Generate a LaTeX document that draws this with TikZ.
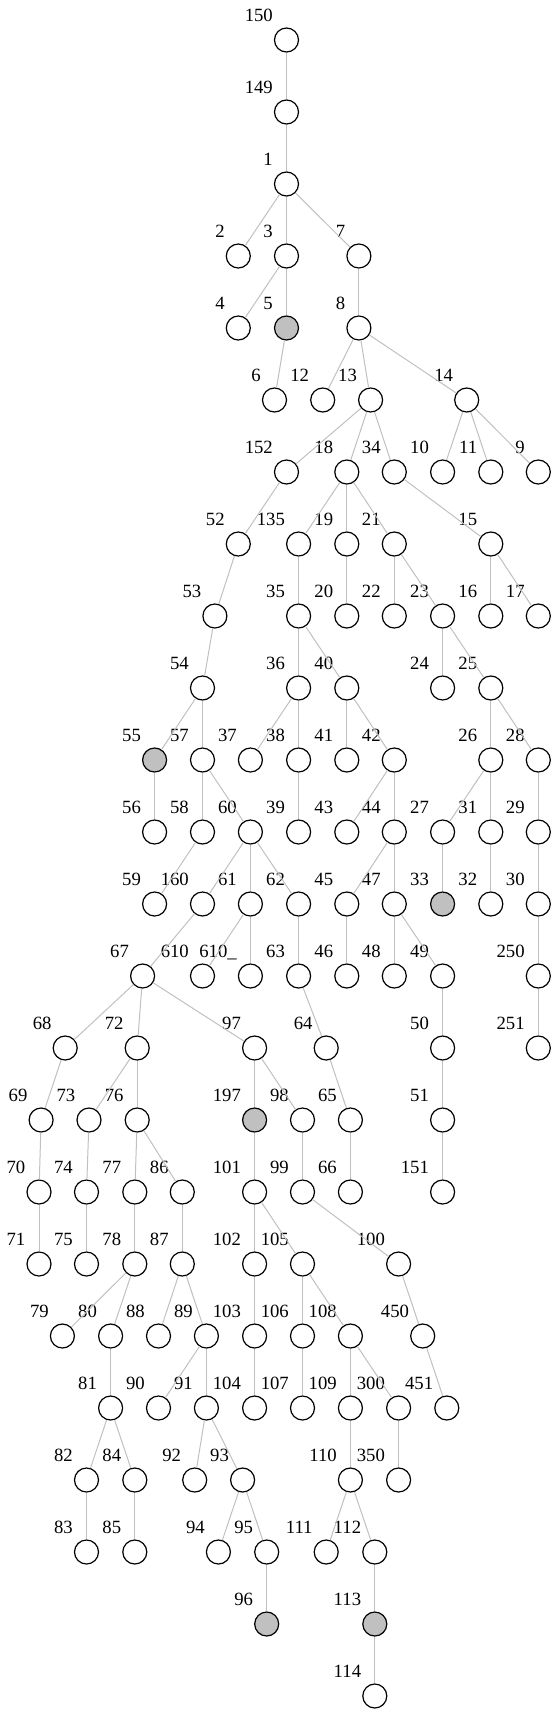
\documentclass[tikz,border=0pt]{standalone}
\usepackage{fontspec}
\setmainfont{Liberation Serif}
\definecolor{edgegray}{HTML}{C0C0C0}
\definecolor{fillgray}{HTML}{C0C0C0}
\tikzset{
  vtx/.style={circle,draw=black,line width=1.2bp,minimum size=24bp,inner sep=0pt,fill=white},
  shaded/.style={fill=fillgray},
  lbl/.style={anchor=base east,inner sep=0pt,font=\fontsize{18.7bp}{20bp}\selectfont},
  conn/.style={draw=edgegray,line width=1bp}
}
\newcommand\mkv[5][]{%
  \node[vtx,#1] (v#2) at (#3,{40+72*#4}) {};
  \node[lbl] (l#2) at ([shift={(-13.5bp,19bp)}]v#2.center) {#5};}
\newcommand\mke[2]{\draw[conn] (v#1) -- (v#2);}
\begin{document}
\begin{tikzpicture}[x=1bp,y=-1bp]
\useasboundingbox (0,0) rectangle (556,1713);
% row 0-2
\mkv{150}{286.5}{0}{150}
\mkv{149}{286.5}{1}{149}
\mkv{1}{286.5}{2}{1}
% row 3
\mkv{2}{238.3}{3}{2}
\mkv{3}{286.5}{3}{3}
\mkv{7}{358.9}{3}{7}
% row 4
\mkv{4}{238.3}{4}{4}
\mkv[shaded]{5}{286.5}{4}{5}
\mkv{8}{358.9}{4}{8}
% row 5
\mkv{6}{274.5}{5}{6}
\mkv{12}{322.7}{5}{12}
\mkv{13}{370.6}{5}{13}
\mkv{14}{466.7}{5}{14}
% row 6
\mkv{152}{286.5}{6}{152}
\mkv{18}{346.8}{6}{18}
\mkv{34}{394.3}{6}{34}
\mkv{10}{442.6}{6}{10}
\mkv{11}{490.8}{6}{11}
\mkv{9}{538.3}{6}{9}
% row 7
\mkv{52}{238.3}{7}{52}
\mkv{135}{298.6}{7}{135}
\mkv{19}{346.8}{7}{19}
\mkv{21}{394.3}{7}{21}
\mkv{15}{490.8}{7}{15}
% row 8
\mkv{53}{214.9}{8}{53}
\mkv{35}{298.6}{8}{35}
\mkv{20}{346.8}{8}{20}
\mkv{22}{394.3}{8}{22}
\mkv{23}{442.6}{8}{23}
\mkv{16}{490.8}{8}{16}
\mkv{17}{538.3}{8}{17}
% row 9
\mkv{54}{202.5}{9}{54}
\mkv{36}{298.6}{9}{36}
\mkv{40}{346.8}{9}{40}
\mkv{24}{442.6}{9}{24}
\mkv{25}{490.8}{9}{25}
% row 10
\mkv[shaded]{55}{154.6}{10}{55}
\mkv{57}{202.5}{10}{57}
\mkv{37}{250.4}{10}{37}
\mkv{38}{298.6}{10}{38}
\mkv{41}{346.8}{10}{41}
\mkv{42}{394.3}{10}{42}
\mkv{26}{490.8}{10}{26}
\mkv{28}{538.3}{10}{28}
% row 11
\mkv{56}{154.6}{11}{56}
\mkv{58}{202.5}{11}{58}
\mkv{60}{250.4}{11}{60}
\mkv{39}{298.6}{11}{39}
\mkv{43}{346.8}{11}{43}
\mkv{44}{394.3}{11}{44}
\mkv{27}{442.6}{11}{27}
\mkv{31}{490.8}{11}{31}
\mkv{29}{538.3}{11}{29}
% row 12
\mkv{59}{154.6}{12}{59}
\mkv{160}{202.5}{12}{160}
\mkv{61}{250.4}{12}{61}
\mkv{62}{298.6}{12}{62}
\mkv{45}{346.8}{12}{45}
\mkv{47}{394.3}{12}{47}
\mkv[shaded]{33}{442.6}{12}{33}
\mkv{32}{490.8}{12}{32}
\mkv{30}{538.3}{12}{30}
% row 13
\mkv{67}{142.6}{13}{67}
\mkv{610}{202.5}{13}{610}
\mkv{610u}{250.4}{13}{610\_}
\mkv{63}{298.6}{13}{63}
\mkv{46}{346.8}{13}{46}
\mkv{48}{394.3}{13}{48}
\mkv{49}{442.6}{13}{49}
\mkv{250}{538.3}{13}{250}
% row 14
\mkv{68}{65.2}{14}{68}
\mkv{72}{137.2}{14}{72}
\mkv{97}{254.6}{14}{97}
\mkv{64}{326.2}{14}{64}
\mkv{50}{442.6}{14}{50}
\mkv{251}{538.3}{14}{251}
% row 15
\mkv{69}{41.1}{15}{69}
\mkv{73}{89.0}{15}{73}
\mkv{76}{137.2}{15}{76}
\mkv[shaded]{197}{254.6}{15}{197}
\mkv{98}{302.5}{15}{98}
\mkv{65}{350.4}{15}{65}
\mkv{51}{442.6}{15}{51}
% row 16
\mkv{70}{39.0}{16}{70}
\mkv{74}{86.5}{16}{74}
\mkv{77}{134.8}{16}{77}
\mkv{86}{182.3}{16}{86}
\mkv{101}{254.6}{16}{101}
\mkv{99}{302.5}{16}{99}
\mkv{66}{350.4}{16}{66}
\mkv{151}{442.6}{16}{151}
% row 17
\mkv{71}{39.0}{17}{71}
\mkv{75}{86.5}{17}{75}
\mkv{78}{134.8}{17}{78}
\mkv{87}{182.3}{17}{87}
\mkv{102}{254.6}{17}{102}
\mkv{105}{302.5}{17}{105}
\mkv{100}{398.6}{17}{100}
% row 18
\mkv{79}{62.4}{18}{79}
\mkv{80}{110.6}{18}{80}
\mkv{88}{158.5}{18}{88}
\mkv{89}{206.4}{18}{89}
\mkv{103}{254.6}{18}{103}
\mkv{106}{302.5}{18}{106}
\mkv{108}{350.4}{18}{108}
\mkv{450}{422.7}{18}{450}
% row 19
\mkv{81}{110.6}{19}{81}
\mkv{90}{158.5}{19}{90}
\mkv{91}{206.4}{19}{91}
\mkv{104}{254.6}{19}{104}
\mkv{107}{302.5}{19}{107}
\mkv{109}{350.4}{19}{109}
\mkv{300}{398.6}{19}{300}
\mkv{451}{446.8}{19}{451}
% row 20
\mkv{82}{86.5}{20}{82}
\mkv{84}{134.8}{20}{84}
\mkv{92}{194.7}{20}{92}
\mkv{93}{242.6}{20}{93}
\mkv{110}{350.4}{20}{110}
\mkv{350}{398.6}{20}{350}
% row 21
\mkv{83}{86.5}{21}{83}
\mkv{85}{134.8}{21}{85}
\mkv{94}{218.4}{21}{94}
\mkv{95}{266.7}{21}{95}
\mkv{111}{326.2}{21}{111}
\mkv{112}{374.8}{21}{112}
% row 22-23
\mkv[shaded]{96}{266.7}{22}{96}
\mkv[shaded]{113}{374.8}{22}{113}
\mkv{114}{374.8}{23}{114}
% edges
\mke{150}{149}\mke{149}{1}\mke{1}{2}\mke{1}{3}\mke{1}{7}
\mke{3}{4}\mke{3}{5}\mke{7}{8}\mke{5}{6}
\mke{8}{12}\mke{8}{13}\mke{8}{14}
\mke{13}{152}\mke{13}{18}\mke{13}{34}
\mke{14}{10}\mke{14}{11}\mke{14}{9}
\mke{152}{52}\mke{18}{135}\mke{18}{19}\mke{18}{21}\mke{34}{15}
\mke{52}{53}\mke{135}{35}\mke{19}{20}\mke{21}{22}\mke{21}{23}\mke{15}{16}\mke{15}{17}
\mke{53}{54}\mke{35}{36}\mke{35}{40}\mke{23}{24}\mke{23}{25}
\mke{54}{55}\mke{54}{57}\mke{36}{37}\mke{36}{38}\mke{40}{41}\mke{40}{42}\mke{25}{26}\mke{25}{28}
\mke{55}{56}\mke{57}{58}\mke{57}{60}\mke{38}{39}\mke{42}{43}\mke{42}{44}\mke{26}{27}\mke{26}{31}\mke{28}{29}
\mke{58}{59}\mke{60}{160}\mke{60}{61}\mke{60}{62}\mke{44}{45}\mke{44}{47}\mke{27}{33}\mke{31}{32}\mke{29}{30}
\mke{160}{67}\mke{61}{610}\mke{61}{610u}\mke{62}{63}\mke{45}{46}\mke{47}{48}\mke{47}{49}\mke{30}{250}
\mke{67}{68}\mke{67}{72}\mke{67}{97}\mke{63}{64}\mke{49}{50}\mke{250}{251}
\mke{68}{69}\mke{72}{73}\mke{72}{76}\mke{97}{197}\mke{97}{98}\mke{64}{65}\mke{50}{51}
\mke{69}{70}\mke{73}{74}\mke{76}{77}\mke{76}{86}\mke{197}{101}\mke{98}{99}\mke{65}{66}\mke{51}{151}
\mke{70}{71}\mke{74}{75}\mke{77}{78}\mke{86}{87}\mke{101}{102}\mke{101}{105}\mke{99}{100}
\mke{78}{79}\mke{78}{80}\mke{87}{88}\mke{87}{89}\mke{102}{103}\mke{105}{106}\mke{105}{108}\mke{100}{450}
\mke{80}{81}\mke{89}{90}\mke{89}{91}\mke{103}{104}\mke{106}{107}\mke{108}{109}\mke{108}{300}\mke{450}{451}
\mke{81}{82}\mke{81}{84}\mke{91}{92}\mke{91}{93}\mke{109}{110}\mke{300}{350}
\mke{82}{83}\mke{84}{85}\mke{93}{94}\mke{93}{95}\mke{110}{111}\mke{110}{112}
\mke{95}{96}\mke{112}{113}\mke{113}{114}
\end{tikzpicture}
\end{document}
